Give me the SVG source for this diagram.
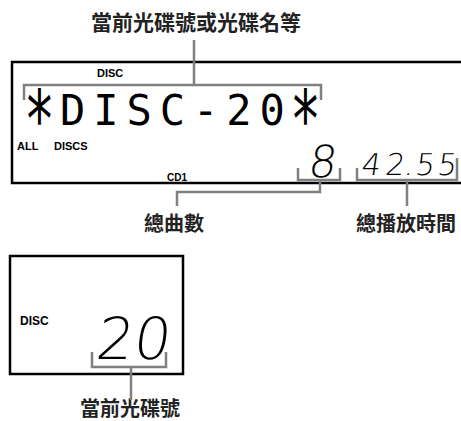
<svg xmlns="http://www.w3.org/2000/svg" width="461" height="421" viewBox="0 0 461 421">
<style>
.box{fill:none;stroke:#000;stroke-width:2.5}
.br{fill:none;stroke:#808080;stroke-width:2.5}
.cjk{font-family:"Noto Sans CJK TC","Noto Sans CJK SC",sans-serif;font-weight:bold;font-size:20px;fill:#222;text-anchor:middle}
.sm{font-family:"Liberation Sans",Arial,sans-serif;font-weight:bold;font-size:11px;fill:#000}
.big{font-family:"DejaVu Sans Mono",monospace;font-size:42px;fill:#000;text-anchor:middle}
.ast{font-family:"DejaVu Sans Mono",monospace;font-size:80px;fill:#000;text-anchor:middle}
.seg{font-family:"DejaVu Sans",sans-serif;font-weight:200;fill:#000;text-anchor:middle}
</style>
<g id="title"><text class="cjk" x="196" y="30" style="font-size:21px">當前光碟號或光碟名等</text></g>
<g id="display-main">
<rect class="box" x="12" y="62" width="470" height="121"/>
<text class="sm" x="97" y="77">DISC</text>
<text class="big" x="72.75 106 139.25 172.5 205.75 239 272.25" y="125">DISC-20</text>
<text class="ast" transform="translate(39.5,65) scale(0.64,-1)" x="0" y="0">*</text>
<text class="ast" transform="translate(305.5,65) scale(0.64,-1)" x="0" y="0">*</text>
<text class="sm" x="17" y="150">ALL<tspan x="54">DISCS</tspan></text>
<text class="sm" x="167" y="181" style="font-size:10px">CD1</text>
<text class="seg" transform="translate(321,177) skewX(-8)" style="font-size:44px">8</text>
<text class="seg" transform="translate(0,175) skewX(-8)" x="370 394 408 424 446" y="0" style="font-size:30px">42.55</text>
</g>
<g id="display-disc">
<rect class="box" x="10" y="256" width="173" height="118"/>
<text class="sm" x="20" y="325" style="font-size:12px">DISC</text>
<text class="seg" transform="translate(0,359) skewX(-8)" x="113 150" y="0" style="font-size:58px">20</text>
</g>
<g id="label-total-tracks"><text class="cjk" x="174" y="231">總曲數</text></g>
<g id="label-total-time"><text class="cjk" x="406" y="231">總播放時間</text></g>
<g id="label-disc-number"><text class="cjk" x="130" y="416">當前光碟號</text></g>
<g id="connectors">
<path class="br" d="M24,100V85H321V100M194,40V85"/>
<path class="br" d="M298,168V180H340V168M320,180V192H177V206"/>
<path class="br" d="M357,168V180H457V158M407,180V206"/>
<path class="br" d="M92,352V367H166V352M131,367V400"/>
</g>
</svg>
